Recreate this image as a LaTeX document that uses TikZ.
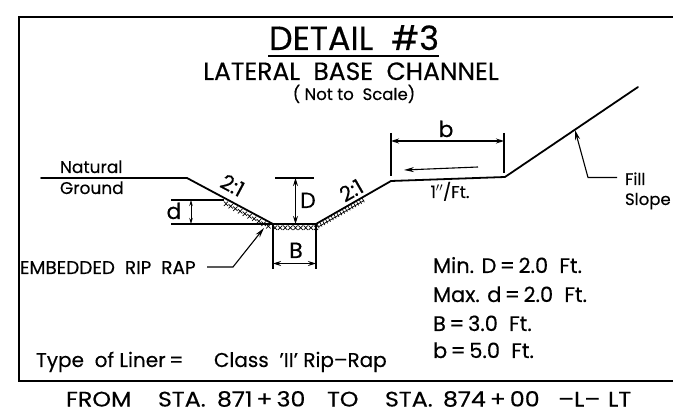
\documentclass[tikz,border=0pt]{standalone}
\usepackage{fontspec}
\setmainfont[FakeBold=0.35]{Poppins}
\usetikzlibrary{arrows.meta,calc}
\tikzset{
 lbl/.style={inner sep=0pt,outer sep=0pt,anchor=base west,text=black},
 main/.style={line width=1.8pt,line cap=round,line join=round},
 dim/.style={line width=1.1pt},
 arr/.style={line width=1.1pt,{Stealth[length=8pt,width=5pt]}-{Stealth[length=8pt,width=5pt]}},
 lead/.style={line width=1.1pt,-{Stealth[length=10pt,width=5pt]}},
 frm/.style={line width=2pt},
 rr/.style={line width=.7pt},
}
\newcommand{\fs}[1]{\fontsize{#1}{#1}\selectfont}
\newcommand{\cell}[2]{\makebox[#1pt][l]{\scalebox{1.13}[1]{#2}}}
\begin{document}
\begin{tikzpicture}[x=1pt,y=-1pt]
\useasboundingbox (0,0) rectangle (673,414);
% frame
\coordinate (f1) at (673,17);\coordinate (f2) at (19,17);\coordinate (f3) at (19,381);\coordinate (f4) at (673,381);
\draw[frm] (f1)--(f2)--(f3)--(f4);
% section points
\coordinate (g0) at (41,178);\coordinate (g1) at (187,178);\coordinate (c1) at (273,224);\coordinate (c2) at (316,224);
\coordinate (s1) at (391,181);\coordinate (s2) at (505,177);\coordinate (s3) at (638,87);
\draw[main] (g0)--(g1)--(c1)--(c2)--(s1)--(s2)--(s3);
% rip rap
\foreach \a in {0,0.1,...,1.0}{
 \draw[rr] ($(226,200)!\a!(273,225)+(-2.2,1.5)$)--++(4.4,4.5) ($(226,200)!\a!(273,225)+(2.2,1.5)$)--++(-4.4,4.5);}
\foreach \a in {0,0.125,...,1.0}{
 \draw[rr] ($(275,225)!\a!(316,225)+(-2.2,.5)$)--++(4.4,4.5) ($(275,225)!\a!(316,225)+(2.2,.5)$)--++(-4.4,4.5);}
\draw[rr] (319,226.5)--(364,200.5);
\foreach \a in {0,0.06,...,1.0}{
 \draw[rr] ($(317,224)!\a!(364,197)$)--++(2.2,4.2);}
% D
\coordinate (dt1) at (275,178);\coordinate (dt2) at (314,178);\coordinate (da) at (295.5,178);\coordinate (db) at (295.5,224);
\draw[dim] (dt1)--(dt2);\draw[arr] (da)--(db);
% d
\coordinate (e1) at (171,200);\coordinate (e2) at (224,200);\coordinate (e3) at (171,224);\coordinate (ea) at (191,200);\coordinate (eb) at (191,224);
\draw[dim] (e1)--(e2) (e3)--(c1);\draw[line width=.8pt,{Stealth[length=6pt,width=3.5pt]}-{Stealth[length=6pt,width=3.5pt]}] (ea)--(eb);
% B
\coordinate (b1) at (273,269);\coordinate (b2) at (316,269);\coordinate (ba) at (273,263.5);\coordinate (bb) at (316,263.5);
\draw[dim] (c1)--(b1) (c2)--(b2);\draw[arr] (ba)--(bb);
% b
\coordinate (h1) at (391,133);\coordinate (h2) at (391,176);\coordinate (h3) at (504,133);\coordinate (h4) at (504,173);\coordinate (ha) at (391,141);\coordinate (hb) at (504,141);
\draw[dim] (h1)--(h2) (h3)--(h4);\draw[arr] (ha)--(hb);
% flow
\coordinate (fl1) at (478,167);\coordinate (fl2) at (404,170);
\draw[lead] (fl1)--(fl2);
% leaders
\coordinate (ll0) at (617,177.5);\coordinate (ll1) at (588,177.5);\coordinate (ll2) at (575,130);
\draw[lead] (ll0)--(ll1)--(ll2);
\coordinate (rr0) at (207,267);\coordinate (rr1) at (233,267);\coordinate (rr2) at (264,228);
\draw[lead] (rr0)--(rr1)--(rr2);
% title
\node[lbl,anchor=base] (t1) at (354,50) {\fs{33.5}DETAIL\ \ \#3};
\coordinate (u1) at (268,56);\coordinate (u2) at (439,56);
\draw[line width=1.8pt] (u1)--(u2);
\node[lbl,anchor=base] (t2) at (351,80) {\fs{25}LATERAL\ \ BASE\ \ CHANNEL};
\node[lbl,anchor=base] (t3) at (354,100) {\fs{16.5}( Not to\ \ Scale)};
% labels
\node[lbl] (n1) at (60,173) {\fs{17}Natural};
\node[lbl] (n2) at (60,194) {\fs{17}Ground};
\node[lbl,rotate=-28,anchor=base] (sl1) at (229,192) {\fs{21}2:1};
\node[lbl,rotate=30,anchor=base] (sl2) at (355,197) {\fs{21}2:1};
\node[lbl,anchor=base] (ld) at (174,219) {\fs{22}d};
\node[lbl,anchor=base] (lD) at (308,208) {\fs{22}D};
\node[lbl,anchor=base] (lB) at (296,258) {\fs{22}B};
\node[lbl,anchor=base] (lb) at (446,137) {\fs{22}b};
\node[lbl,anchor=base] (lf) at (450,198) {\fs{17}1$''$/Ft.};
\node[lbl] (fa) at (625,185) {\fs{16.5}Fill};
\node[lbl] (fb) at (625,205) {\fs{16.5}Slope};
\node[lbl] (em) at (20,274) {\fs{18.5}EMBEDDED\ \ RIP\ \ RAP};
\node[lbl] (m1) at (433,273) {\fs{21}Min. D$\,$=$\,$2.0\ \ Ft.};
\node[lbl] (m2) at (433,302) {\fs{21}Max. d$\,$=$\,$2.0\ \ Ft.};
\node[lbl] (m3) at (433,331) {\fs{21}B$\,$=$\,$3.0\ \ Ft.};
\node[lbl] (m4) at (433,358) {\fs{21}b$\,$=$\,$5.0\ \ Ft.};
\node[lbl] (ty) at (36,367) {\fs{20}Type\ \ of Liner$\,$=};
\node[lbl] (cl) at (214,367) {\fs{20}Class\ \ 'II' Rip--Rap};
\node[lbl] (fr) at (66,406.5) {\fs{21}\cell{92}{FROM}\cell{59}{STA.}\cell{110}{871$\,$+$\,$30}\cell{58}{TO}\cell{58}{STA.}\cell{115}{874$\,$+$\,$00}\cell{50}{--L--}\scalebox{1.13}[1]{LT}};
\end{tikzpicture}
\end{document}
